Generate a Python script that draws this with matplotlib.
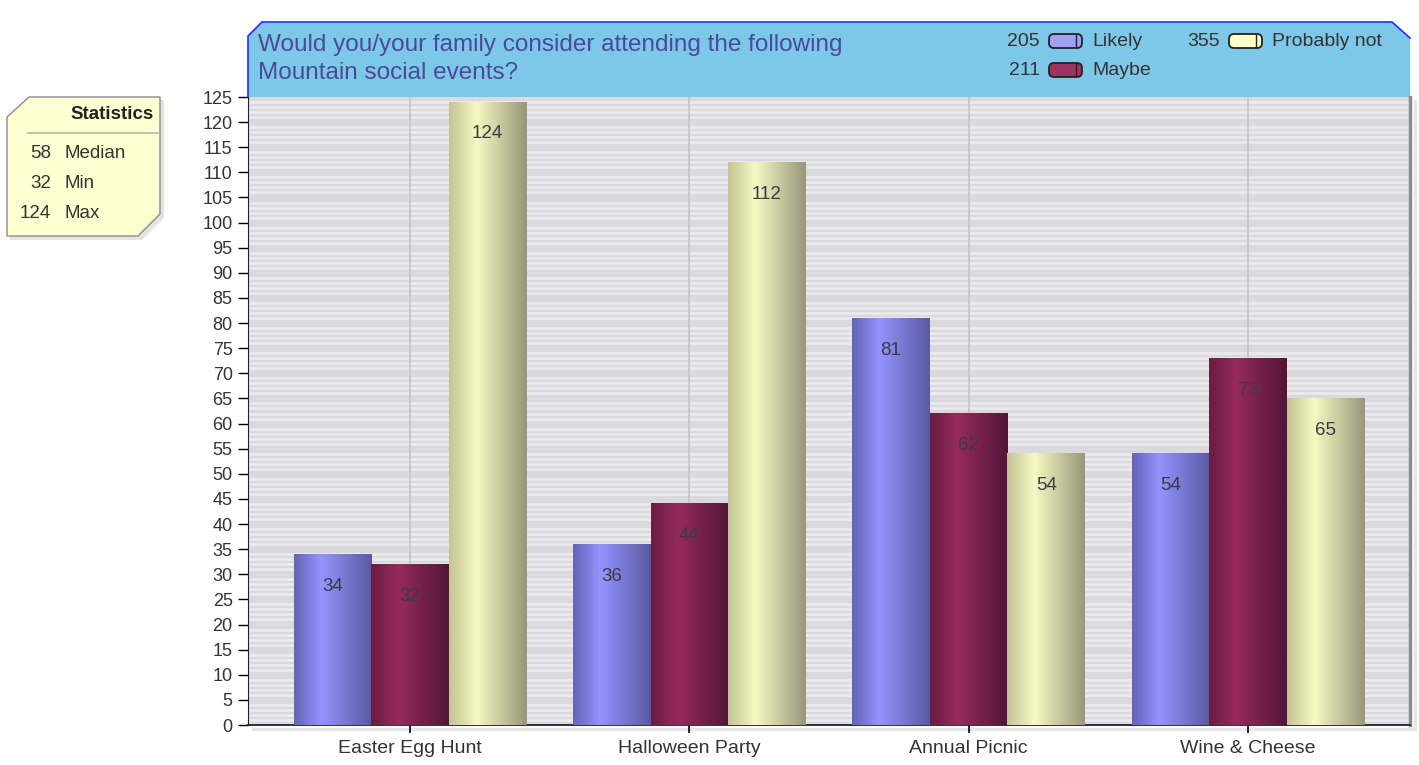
import matplotlib.pyplot as plt
import numpy as np
from matplotlib.colors import LinearSegmentedColormap
from matplotlib.patches import Polygon, FancyBboxPatch

plt.rcParams['font.family'] = ['Liberation Sans', 'DejaVu Sans']

categories = ["Easter Egg Hunt", "Halloween Party", "Annual Picnic", "Wine & Cheese"]
series = ["Likely", "Maybe", "Probably not"]
likely = [34, 36, 81, 54]
maybe = [32, 44, 62, 73]
probably_not = [124, 112, 54, 65]
title = "Would you/your family consider attending the following\nMountain social events?"

values = [likely, maybe, probably_not]
# bar gradients: left, highlight, right
grads = [["#6464b8", "#9494ff", "#5a5aa4"],
         ["#6a1d42", "#972a5d", "#521637"],
         ["#c4c496", "#f8f8c2", "#98987a"]]
swatch = ["#a0a0f4", "#a03262", "#ffffc8"]

W, H = 1419, 765
fig = plt.figure(figsize=(W / 100, H / 100), dpi=100)

# overlay in pixel coordinates for header, legend, statistics box
ov = fig.add_axes([0, 0, 1, 1], zorder=0)
ov.set_xlim(0, W)
ov.set_ylim(H, 0)
ov.axis("off")

# plot shadow
ov.add_patch(Polygon([[252, 728], [1414, 728], [1414, 100], [1417, 100], [1417, 731], [252, 731]],
                     closed=True, facecolor="#e6e6e6", edgecolor="none"))

# header band
ov.add_patch(Polygon([[248, 97], [248, 36], [262, 22], [1392, 22], [1410, 38], [1410, 97]],
                     closed=True, facecolor="#7dc7e8", edgecolor="none"))
ov.plot([248, 248, 262, 1392, 1410], [97, 36, 22, 22, 38], color="#2a2aff", lw=1.2)
ov.text(258, 59, title, fontsize=17.5, color="#4a4a98", va="center", ha="left", linespacing=1.3)

# legend
totals = [sum(v) for v in values]
leg_pos = [(1040, 41), (1040, 70), (1220, 41)]
for (x, y), name, tot, col in zip(leg_pos, series, totals, swatch):
    ov.text(x, y, str(tot), fontsize=14, color="#333333", ha="right", va="center")
    ov.add_patch(FancyBboxPatch((x + 9, y - 7), 33, 14, boxstyle="round,pad=0,rounding_size=5",
                                facecolor=col, edgecolor="#222222", lw=1.3))
    ov.plot([x + 36, x + 36], [y - 6, y + 6], color="#222222", lw=1)
    ov.text(x + 52, y, name, fontsize=14, color="#333333", ha="left", va="center")

# statistics box
allv = np.array(values).ravel()
stats = [(int(np.median(allv)), "Median"), (int(allv.min()), "Min"), (int(allv.max()), "Max")]
ov.add_patch(Polygon([[10, 240], [10, 120], [32, 100], [164, 100], [164, 218], [142, 240]],
                     closed=True, facecolor="#e4e4e4", edgecolor="none"))
ov.add_patch(Polygon([[7, 236], [7, 117], [29, 97], [160, 97], [160, 214], [138, 236]],
                     closed=True, facecolor="#ffffd2", edgecolor="#8a8a8a", lw=1))
ov.text(112, 114, "Statistics", fontsize=13.5, fontweight="bold", color="#222222", ha="center", va="center")
ov.plot([28, 158], [133, 133], color="#b8b8a0", lw=1.2)
for i, (num, lab) in enumerate(stats):
    y = 153 + 30 * i
    ov.text(51, y, str(num), fontsize=13.5, color="#333333", ha="right", va="center")
    ov.text(65, y, lab, fontsize=13.5, color="#333333", ha="left", va="center")

# main plot
ax = fig.add_axes([248 / W, 1 - 725 / H, (1410 - 248) / W, (725 - 97) / H], zorder=1)
ax.set_facecolor("#dadade")
x = np.arange(len(categories))
bw = 0.278
for i, (vals, g) in enumerate(zip(values, grads)):
    cmap = LinearSegmentedColormap.from_list("g%d" % i, [(0, g[0]), (0.35, g[1]), (1, g[2])])
    grad = np.linspace(0, 1, 64).reshape(1, -1)
    offs = (i - 1) * bw
    for xc, v in zip(x, vals):
        x0 = xc + offs - bw / 2
        ax.imshow(grad, cmap=cmap, extent=[x0, x0 + bw, 0, v], aspect="auto", zorder=3,
                  interpolation="bilinear")
        ax.annotate(str(v), (xc + offs, v), xytext=(0, -23), textcoords="offset points",
                    ha="center", va="center", fontsize=13.5, color="#3a3a4a", zorder=4)

for xc in x:
    ax.axvline(xc, color="#c4c4c4", lw=1.2, zorder=1.5)

ax.set_xlim(-0.58, 3.58)
ax.set_ylim(0, 125)
ax.set_xticks(x)
ax.set_xticklabels(categories, fontsize=14, color="#333333")
ax.set_yticks(np.arange(0, 126, 5))
ax.set_yticks(np.arange(0, 126, 1), minor=True)
ax.tick_params(axis="y", which="major", labelsize=13, labelcolor="#333333", length=7, width=1, pad=4)
ax.tick_params(axis="y", which="minor", length=0)
ax.tick_params(axis="x", length=6, width=1.2, pad=5)
ax.grid(axis="y", which="minor", color="#e9e9ee", lw=2, zorder=0)
ax.set_axisbelow(True)
ax.spines["top"].set_visible(False)
ax.spines["right"].set_color("#8c8c8c")
ax.spines["right"].set_linewidth(2.5)
ax.spines["left"].set_color("#222222")
ax.spines["bottom"].set_color("#222222")
ax.spines["bottom"].set_linewidth(1.3)

plt.savefig("out.png", dpi=100)
